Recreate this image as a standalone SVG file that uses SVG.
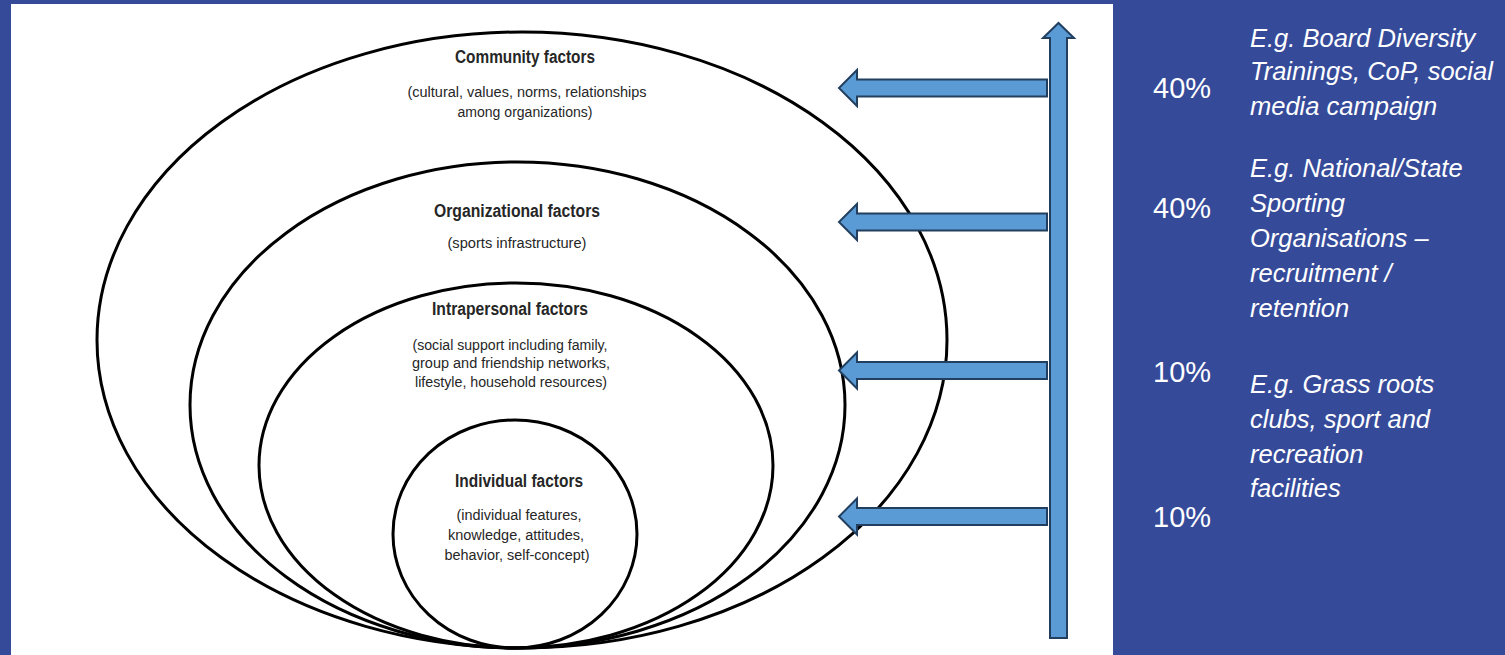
<svg xmlns="http://www.w3.org/2000/svg" width="1505" height="655" viewBox="0 0 1505 655">
<style>
.ring{fill:none;stroke:#000;stroke-width:3}
.t{font-family:"Liberation Sans",Arial,sans-serif;font-weight:bold;font-size:18px;fill:#262626;text-anchor:middle}
.s{font-family:"Liberation Sans",Arial,sans-serif;font-size:15.5px;fill:#262626;text-anchor:middle}
.pct{font-family:"Liberation Sans",Arial,sans-serif;font-size:29px;fill:#fff}
.eg{font-family:"Liberation Sans",Arial,sans-serif;font-style:italic;font-size:25.5px;fill:#fff}
.arr{fill:#5B9BD5;stroke:#223F5F;stroke-width:2;stroke-linejoin:miter}
</style>
<rect x="0" y="0" width="1505" height="655" fill="#364A9A"/>
<rect x="11" y="4" width="1102" height="651" fill="#fff"/>
<g id="community">
<ellipse class="ring" cx="522" cy="340" rx="425" ry="308"/>
<text class="t" x="525" y="63" textLength="140" lengthAdjust="spacingAndGlyphs">Community factors</text>
<text class="s" x="527" y="97" textLength="239" lengthAdjust="spacingAndGlyphs">(cultural, values, norms, relationships</text>
<text class="s" x="525" y="117" textLength="135" lengthAdjust="spacingAndGlyphs">among organizations)</text>
</g>
<g id="organizational">
<ellipse class="ring" cx="517.5" cy="405" rx="327.5" ry="243"/>
<text class="t" x="517" y="217" textLength="166" lengthAdjust="spacingAndGlyphs">Organizational factors</text>
<text class="s" x="517" y="248" textLength="139" lengthAdjust="spacingAndGlyphs">(sports infrastructure)</text>
</g>
<g id="intrapersonal">
<ellipse class="ring" cx="516" cy="465.5" rx="257" ry="182.5"/>
<text class="t" x="510" y="315" textLength="156" lengthAdjust="spacingAndGlyphs">Intrapersonal factors</text>
<text class="s" x="510" y="350" textLength="195" lengthAdjust="spacingAndGlyphs">(social support including family,</text>
<text class="s" x="511" y="368" textLength="198" lengthAdjust="spacingAndGlyphs">group and friendship networks,</text>
<text class="s" x="511" y="387" textLength="192" lengthAdjust="spacingAndGlyphs">lifestyle, household resources)</text>
</g>
<g id="individual">
<ellipse class="ring" cx="515" cy="534" rx="122" ry="114"/>
<text class="t" x="519" y="487" textLength="128" lengthAdjust="spacingAndGlyphs">Individual factors</text>
<text class="s" x="519" y="520" textLength="125" lengthAdjust="spacingAndGlyphs">(individual features,</text>
<text class="s" x="516" y="540" textLength="136" lengthAdjust="spacingAndGlyphs">knowledge, attitudes,</text>
<text class="s" x="517" y="560" textLength="145" lengthAdjust="spacingAndGlyphs">behavior, self-concept)</text>
</g>
<g id="connectors">
<path class="arr" d="M1050,638 L1050,38 L1043,38 L1058.5,23 L1074,38 L1067,38 L1067,638 Z"/>
<path class="arr" d="M1047,79.5 L857,79.5 L857,70 L839,88 L857,106 L857,96.5 L1047,96.5 Z"/>
<path class="arr" d="M1047,213.5 L857,213.5 L857,204 L839,222 L857,240 L857,230.5 L1047,230.5 Z"/>
<path class="arr" d="M1047,362 L857,362 L857,352.5 L839,370.5 L857,388.5 L857,379 L1047,379 Z"/>
<path class="arr" d="M1047,508 L857,508 L857,498.5 L839,516.5 L857,534.5 L857,525 L1047,525 Z"/>
</g>
<g id="pct-community"><text class="pct" x="1153" y="98">40%</text></g>
<g id="pct-organizational"><text class="pct" x="1153" y="218">40%</text></g>
<g id="pct-intrapersonal"><text class="pct" x="1153" y="382">10%</text></g>
<g id="pct-individual"><text class="pct" x="1153" y="527">10%</text></g>
<g id="eg-community">
<text class="eg" x="1250" y="47">E.g. Board Diversity</text>
<text class="eg" x="1250" y="80">Trainings, CoP, social</text>
<text class="eg" x="1250" y="115">media campaign</text>
</g>
<g id="eg-organizational">
<text class="eg" x="1250" y="177">E.g. National/State</text>
<text class="eg" x="1250" y="212">Sporting</text>
<text class="eg" x="1250" y="247">Organisations –</text>
<text class="eg" x="1250" y="282">recruitment /</text>
<text class="eg" x="1250" y="317">retention</text>
</g>
<g id="eg-grassroots">
<text class="eg" x="1250" y="393">E.g. Grass roots</text>
<text class="eg" x="1250" y="428">clubs, sport and</text>
<text class="eg" x="1250" y="463">recreation</text>
<text class="eg" x="1250" y="497">facilities</text>
</g>
</svg>
